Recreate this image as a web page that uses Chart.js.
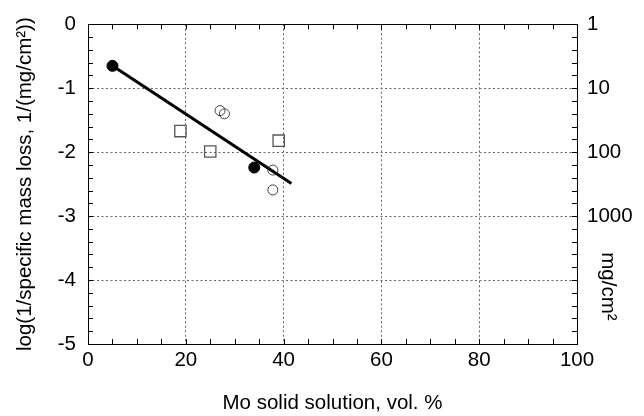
<!DOCTYPE html>
<html>
<head>
<meta charset="utf-8">
<script src="https://cdn.jsdelivr.net/npm/chart.js@4/dist/chart.umd.min.js"></script>
<style>
  html, body { margin: 0; padding: 0; background: #fff; }
  #wrap { width: 644px; height: 416px; }
</style>
</head>
<body>
<div id="wrap"><canvas id="massChart" width="644" height="416"></canvas></div>
<script>
// datos
const filledX = [5, 34];
const filledY = [-0.65, -2.24];
const circleX = [27.0, 27.9, 37.8, 37.8];
const circleY = [-1.35, -1.40, -2.28, -2.59];
const squareX = [18.9, 25.0, 39.0];
const squareY = [-1.67, -1.99, -1.82];
const fitX = [5, 41.6];
const fitY = [-0.65, -2.49];

const xTicks = [0, 20, 40, 60, 80, 100];
const yTicks = [0, -1, -2, -3, -4, -5];
const rightLabels = ['1', '10', '100', '1000', '', ''];

const FONT = "'Liberation Sans', Arial, sans-serif";
const FSIZE = 20.5;

function toPoints(xs, ys) {
    return xs.map((x, i) => ({ x: x, y: ys[i] }));
}

// marco del grafico, marcas menores hacia dentro y titulo derecho
const framePlugin = {
    id: 'frame',
    afterDraw(chart) {
        let ctx = chart.ctx;
        let a = chart.chartArea;
        let xs = chart.scales.x;
        let ys = chart.scales.y;
        ctx.save();
        ctx.strokeStyle = '#000';
        ctx.lineWidth = 1;
        ctx.beginPath();
        for (let v = 0; v <= 100; v += 5) {
            let px = Math.round(xs.getPixelForValue(v)) + 0.5;
            ctx.moveTo(px, a.bottom); ctx.lineTo(px, a.bottom - 5);
            ctx.moveTo(px, a.top); ctx.lineTo(px, a.top + 5);
        }
        for (let i = 0; i <= 25; i++) {
            let v = -i * 0.2;
            let py = Math.round(ys.getPixelForValue(v)) + 0.5;
            ctx.moveTo(a.left, py); ctx.lineTo(a.left + 5, py);
            ctx.moveTo(a.right, py); ctx.lineTo(a.right - 5, py);
        }
        ctx.stroke();
        ctx.strokeRect(Math.round(a.left) + 0.5, Math.round(a.top) + 0.5,
            Math.round(a.right - a.left), Math.round(a.bottom - a.top));

        // titulo del eje derecho
        ctx.fillStyle = '#000';
        ctx.font = FSIZE + 'px ' + FONT;
        ctx.textAlign = 'center';
        ctx.textBaseline = 'middle';
        ctx.translate(a.right + 31, ys.getPixelForValue(-4.1));
        ctx.rotate(Math.PI / 2);
        ctx.fillText('mg/cm\u00B2', 0, 0);
        ctx.restore();
    }
};

function gridColor(c) {
    let v = c.tick ? c.tick.value : null;
    if (v === null) return 'rgba(0,0,0,0)';
    if (c.scale.axis === 'x' && (v <= 0 || v >= 100)) return 'rgba(0,0,0,0)';
    if (c.scale.axis === 'y' && (v >= 0 || v <= -5)) return 'rgba(0,0,0,0)';
    return '#666';
}

new Chart(document.getElementById('massChart'), {
    type: 'scatter',
    data: {
        datasets: [
            {
                label: 'ajuste',
                data: toPoints(fitX, fitY),
                showLine: true,
                borderColor: '#000',
                borderWidth: 3,
                pointRadius: 0,
                order: 0
            },
            {
                label: 'relleno',
                data: toPoints(filledX, filledY),
                pointStyle: 'circle',
                pointRadius: 5.5,
                backgroundColor: '#000',
                borderColor: '#000',
                borderWidth: 1,
                order: 1
            },
            {
                label: 'circulos',
                data: toPoints(circleX, circleY),
                pointStyle: 'circle',
                pointRadius: 5,
                backgroundColor: 'rgba(0,0,0,0)',
                borderColor: '#444',
                borderWidth: 1,
                order: 2
            },
            {
                label: 'cuadrados',
                data: toPoints(squareX, squareY),
                pointStyle: 'rect',
                pointRadius: 8,
                backgroundColor: 'rgba(0,0,0,0)',
                borderColor: '#555',
                borderWidth: 1.3,
                order: 2
            }
        ]
    },
    options: {
        responsive: false,
        animation: false,
        layout: { padding: { top: 18, left: 0, right: 0, bottom: 0 } },
        plugins: {
            legend: { display: false },
            tooltip: { enabled: false }
        },
        scales: {
            x: {
                type: 'linear',
                min: 0, max: 100,
                afterBuildTicks: s => { s.ticks = xTicks.map(v => ({ value: v })); },
                afterFit: s => { s.height = 72; },
                ticks: { color: '#000', font: { family: FONT, size: FSIZE }, padding: 4, maxRotation: 0 },
                grid: { drawTicks: false, color: gridColor, lineWidth: 1 },
                border: { display: false, dash: [2, 2.5] },
                title: {
                    display: true,
                    text: 'Mo solid solution, vol. %',
                    color: '#000',
                    font: { family: FONT, size: FSIZE },
                    padding: { top: 0, bottom: 0 }
                }
            },
            y: {
                type: 'linear',
                position: 'left',
                min: -5, max: 0,
                afterBuildTicks: s => { s.ticks = yTicks.map(v => ({ value: v })); },
                afterFit: s => { s.width = 88; },
                ticks: { color: '#000', font: { family: FONT, size: FSIZE }, padding: 12 },
                grid: { drawTicks: false, color: gridColor, lineWidth: 1 },
                border: { display: false, dash: [2, 2.5] },
                title: {
                    display: true,
                    text: 'log(1/specific mass loss, 1/(mg/cm\u00B2))',
                    color: '#000',
                    font: { family: FONT, size: FSIZE },
                    padding: { top: 13, bottom: 0 }
                }
            },
            y2: {
                type: 'linear',
                position: 'right',
                min: -5, max: 0,
                afterBuildTicks: s => { s.ticks = yTicks.map(v => ({ value: v })); },
                afterFit: s => { s.width = 67; },
                ticks: {
                    color: '#000',
                    font: { family: FONT, size: FSIZE },
                    padding: 10,
                    callback: (v) => rightLabels[yTicks.indexOf(v)]
                },
                grid: { display: false, drawTicks: false },
                border: { display: false }
            }
        }
    },
    plugins: [framePlugin]
});
</script>
</body>
</html>
